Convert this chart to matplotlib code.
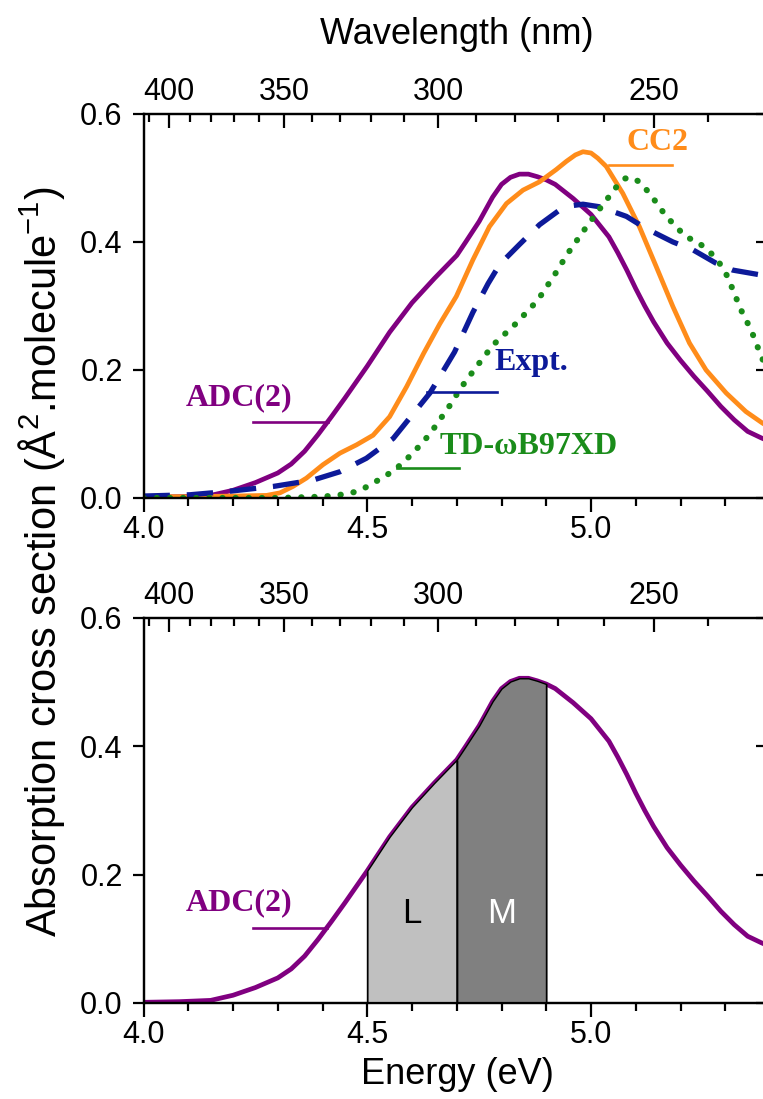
import numpy as np
import matplotlib
matplotlib.use("Agg")
import matplotlib.pyplot as plt

plt.rcParams['font.family'] = ['Liberation Sans', 'DejaVu Sans']
plt.rcParams['mathtext.fontset'] = 'custom'
plt.rcParams['mathtext.rm'] = 'Liberation Sans'
plt.rcParams['axes.linewidth'] = 1.6

# photon energy (eV) vs absorption cross section
adc_e = [4.00, 4.08, 4.15, 4.20, 4.25, 4.30, 4.33, 4.36, 4.39, 4.42, 4.45, 4.50, 4.55,
         4.60, 4.65, 4.70, 4.72, 4.75, 4.78, 4.80, 4.82, 4.84, 4.86, 4.88, 4.90, 4.92,
         4.96, 5.00, 5.04, 5.06, 5.08, 5.10, 5.12, 5.14, 5.17, 5.20, 5.23, 5.26, 5.29,
         5.32, 5.35, 5.38, 5.40]
adc_v = [0.001, 0.002, 0.004, 0.012, 0.024, 0.039, 0.053, 0.073, 0.099, 0.127, 0.156,
         0.206, 0.259, 0.305, 0.343, 0.379, 0.400, 0.432, 0.470, 0.490, 0.501, 0.506,
         0.506, 0.502, 0.497, 0.490, 0.468, 0.443, 0.408, 0.383, 0.356, 0.327, 0.300,
         0.275, 0.242, 0.215, 0.190, 0.167, 0.143, 0.122, 0.104, 0.094, 0.088]

cc2_e = [4.00, 4.10, 4.20, 4.275, 4.305, 4.334, 4.364, 4.401, 4.439, 4.476, 4.513, 4.55,
         4.588, 4.626, 4.662, 4.699, 4.736, 4.773, 4.811, 4.848, 4.885, 4.922, 4.945,
         4.965, 4.982, 5.000, 5.015, 5.034, 5.071, 5.108, 5.146, 5.183, 5.22, 5.257,
         5.302, 5.346, 5.383, 5.40]
cc2_v = [0.002, 0.002, 0.003, 0.004, 0.008, 0.018, 0.031, 0.052, 0.070, 0.083, 0.098,
         0.127, 0.174, 0.226, 0.272, 0.315, 0.372, 0.424, 0.460, 0.481, 0.494, 0.513,
         0.526, 0.536, 0.541, 0.539, 0.531, 0.518, 0.476, 0.424, 0.361, 0.299, 0.242,
         0.200, 0.164, 0.135, 0.117, 0.110]

exp_e = [4.00, 4.104, 4.186, 4.29, 4.379, 4.439, 4.498, 4.558, 4.588, 4.64, 4.695, 4.736,
         4.77, 4.796, 4.84, 4.885, 4.93, 4.96, 4.982, 5.019, 5.079, 5.123, 5.183, 5.227,
         5.279, 5.317, 5.383, 5.40]
exp_v = [0.003, 0.005, 0.010, 0.018, 0.028, 0.041, 0.062, 0.093, 0.119, 0.164, 0.228,
         0.290, 0.335, 0.365, 0.396, 0.427, 0.450, 0.457, 0.459, 0.455, 0.440, 0.421,
         0.400, 0.388, 0.367, 0.356, 0.348, 0.346]

td_e = [4.00, 4.30, 4.40, 4.44, 4.47, 4.49, 4.51, 4.54, 4.565, 4.59, 4.615, 4.64, 4.665,
        4.69, 4.706, 4.744, 4.781, 4.833, 4.881, 4.918, 4.948, 4.985, 5.023, 5.06, 5.075,
        5.09, 5.108, 5.131, 5.168, 5.212, 5.238, 5.265, 5.287, 5.305, 5.335, 5.358, 5.38,
        5.40]
td_v = [0.0, 0.0, 0.002, 0.005, 0.009, 0.014, 0.022, 0.034, 0.046, 0.062, 0.080, 0.100,
        0.125, 0.150, 0.169, 0.205, 0.239, 0.273, 0.309, 0.348, 0.382, 0.419, 0.455, 0.489,
        0.499, 0.501, 0.494, 0.476, 0.440, 0.408, 0.400, 0.385, 0.367, 0.346, 0.294, 0.262,
        0.222, 0.190]

# energy windows shaded under the ADC(2) band
band_edges = [4.5, 4.7, 4.9]
band_names = ['L', 'M']
band_colors = ['#c0c0c0', '#808080']
band_text = ['black', 'white']

# wavelength scale on top (nm), mapped to the energy axis
nm_major = [400, 350, 300, 250]
nm_minor = list(range(410, 229, -10))


def nm_to_ev(nm):
    return 723.0 / np.asarray(nm, dtype=float) + 2.249


purple = '#800080'
orange = '#ff8c1a'
navy = '#0d1a99'
green = '#1a8c1a'
lab_font = dict(family=['Liberation Serif', 'DejaVu Serif'], weight='bold', size=23)

fig = plt.figure(figsize=(7.63, 10.99), dpi=100)
ax1 = fig.add_axes([0.1881, 0.5469, 0.8211, 0.3494])
ax2 = fig.add_axes([0.1881, 0.0874, 0.8211, 0.3503])


def style(ax):
    ax.set_xlim(4.0, 5.4)
    ax.set_ylim(0, 0.6)
    ax.set_xticks([4.0, 4.5, 5.0])
    ax.set_xticks(np.arange(4.0, 5.41, 0.1), minor=True)
    ax.set_yticks([0.0, 0.2, 0.4, 0.6])
    ax.xaxis.set_major_formatter(plt.FormatStrFormatter('%.1f'))
    ax.yaxis.set_major_formatter(plt.FormatStrFormatter('%.1f'))
    ax.tick_params(axis='x', which='major', direction='out', length=10, width=1.6,
                   labelsize=22, pad=2)
    ax.tick_params(axis='x', which='minor', direction='out', length=6, width=1.6)
    ax.tick_params(axis='y', which='major', direction='out', length=8, width=1.6,
                   labelsize=22, pad=7, right=True)
    for t in ax.yaxis.get_major_ticks():
        t.tick2line.set_marker(matplotlib.lines.TICKLEFT)
        t.tick2line.set_markersize(10)

    top = ax.twiny()
    top.set_xlim(ax.get_xlim())
    top.set_xticks(nm_to_ev(nm_major))
    top.set_xticklabels([str(v) for v in nm_major])
    top.set_xticks(nm_to_ev(nm_minor), minor=True)
    top.tick_params(axis='x', which='major', direction='in', length=10, width=1.6,
                    labelsize=22, pad=5)
    top.tick_params(axis='x', which='minor', direction='in', length=6, width=1.6)
    return top


style(ax1)
style(ax2)

# upper panel: all four spectra
ax1.plot(adc_e, adc_v, color=purple, lw=3.4)
ax1.plot(cc2_e, cc2_v, color=orange, lw=3.4)
ax1.plot(exp_e, exp_v, color=navy, lw=3.8, linestyle=(0, (5, 3.2)))
ax1.plot(td_e, td_v, color=green, lw=4.4, linestyle=(0, (0.05, 2.1)),
         dash_capstyle='round')

ax1.text(4.213, 0.156, 'ADC(2)', color=purple, ha='center', va='center', **lab_font)
ax1.plot([4.244, 4.412], [0.119, 0.119], color=purple, lw=1.9)
ax1.text(4.784, 0.211, 'Expt.', color=navy, ha='left', va='center', **lab_font)
ax1.plot([4.633, 4.791], [0.166, 0.166], color=navy, lw=1.9)
ax1.text(4.662, 0.080, 'TD-ωB97XD', color=green, ha='left', va='center', **lab_font)
ax1.plot([4.566, 4.704], [0.047, 0.047], color=green, lw=1.9)
ax1.text(5.079, 0.555, 'CC2', color=orange, ha='left', va='center', **lab_font)
ax1.plot([5.041, 5.182], [0.520, 0.520], color=orange, lw=1.9)

# lower panel: ADC(2) with the two shaded windows
ax2.plot(adc_e, adc_v, color=purple, lw=3.4)
e = np.array(adc_e)
v = np.array(adc_v)
for i, name in enumerate(band_names):
    lo, hi = band_edges[i], band_edges[i + 1]
    m = (e >= lo - 1e-9) & (e <= hi + 1e-9)
    ax2.fill_between(e[m], 0, v[m], facecolor=band_colors[i], edgecolor='black',
                     lw=1.0, zorder=3)
    ax2.vlines([lo, hi], 0, [v[m][0], v[m][-1]], color='black', lw=1.0, zorder=4)
    ax2.text((lo + hi) / 2, 0.140, name, color=band_text[i], fontsize=25,
             ha='center', va='center', zorder=5)

ax2.text(4.213, 0.156, 'ADC(2)', color=purple, ha='center', va='center', **lab_font)
ax2.plot([4.244, 4.41], [0.117, 0.117], color=purple, lw=1.9)

fig.text(457 / 763, 1 - 35 / 1099, 'Wavelength (nm)', fontsize=26, ha='center', va='center')
fig.text(457 / 763, 1 - 1075 / 1099, 'Energy (eV)', fontsize=26, ha='center', va='center')
fig.text(42 / 763, 1 - 562 / 1099,
         'Absorption cross section (Å$^{2}$.molecule$^{-1}$)',
         fontsize=30, rotation=90, ha='center', va='center')

fig.savefig('out.png', dpi=100)
